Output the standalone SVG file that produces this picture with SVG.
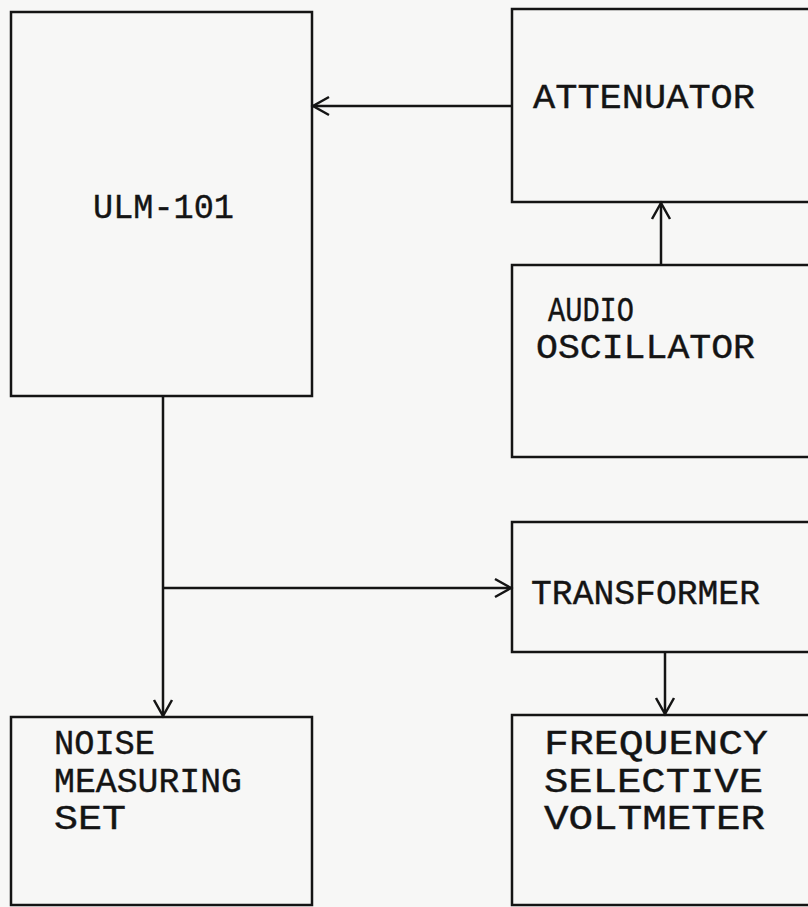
<svg xmlns="http://www.w3.org/2000/svg" width="808" height="907" viewBox="0 0 808 907">
<style>
.box{fill:none;stroke:#141414;stroke-width:2.5}
.con{fill:none;stroke:#141414;stroke-width:2.5}
.lbl{font-family:"Liberation Mono","DejaVu Sans Mono",monospace;font-size:35px;fill:#141414;stroke:#141414;stroke-width:0.4}
</style>
<defs>
<marker id="arr" viewBox="-20 -12 24 24" markerWidth="24" markerHeight="24" refX="0" refY="0" orient="auto" markerUnits="userSpaceOnUse" overflow="visible">
<path d="M-16,-9 L0,0 L-16,9" fill="none" stroke="#141414" stroke-width="2.5"/>
</marker>
</defs>
<rect width="808" height="907" fill="#f7f7f6"/>
<g id="connectors">
<line class="con" x1="512" y1="106" x2="313" y2="106" marker-end="url(#arr)"/>
<line class="con" x1="661" y1="265" x2="661" y2="203" marker-end="url(#arr)"/>
<line class="con" x1="163" y1="396" x2="163" y2="716" marker-end="url(#arr)"/>
<line class="con" x1="163" y1="588" x2="511" y2="588" marker-end="url(#arr)"/>
<line class="con" x1="665" y1="652" x2="665" y2="714" marker-end="url(#arr)"/>
</g>
<g id="ulm101">
<rect class="box" x="11" y="12" width="301" height="384"/>
<text class="lbl" x="93" y="218" textLength="141" lengthAdjust="spacingAndGlyphs">ULM-101</text>
</g>
<g id="attenuator">
<rect class="box" x="512" y="9" width="320" height="193"/>
<text class="lbl" x="533" y="108" textLength="222" lengthAdjust="spacingAndGlyphs">ATTENUATOR</text>
</g>
<g id="audio-oscillator">
<rect class="box" x="512" y="265" width="320" height="192"/>
<text class="lbl" x="548" y="321" textLength="86" lengthAdjust="spacingAndGlyphs">AUDIO</text>
<text class="lbl" x="536" y="358" textLength="219" lengthAdjust="spacingAndGlyphs">OSCILLATOR</text>
</g>
<g id="transformer">
<rect class="box" x="512" y="522" width="320" height="130"/>
<text class="lbl" x="531" y="604" textLength="229" lengthAdjust="spacingAndGlyphs">TRANSFORMER</text>
</g>
<g id="noise-measuring-set">
<rect class="box" x="11" y="717" width="301" height="188"/>
<text class="lbl" x="54" y="754" textLength="101" lengthAdjust="spacingAndGlyphs">NOISE</text>
<text class="lbl" x="54" y="792" textLength="188" lengthAdjust="spacingAndGlyphs">MEASURING</text>
<text class="lbl" x="54" y="829" textLength="72" lengthAdjust="spacingAndGlyphs">SET</text>
</g>
<g id="frequency-selective-voltmeter">
<rect class="box" x="512" y="715" width="320" height="190"/>
<text class="lbl" x="544" y="754" textLength="224" lengthAdjust="spacingAndGlyphs">FREQUENCY</text>
<text class="lbl" x="544" y="792" textLength="219" lengthAdjust="spacingAndGlyphs">SELECTIVE</text>
<text class="lbl" x="544" y="829" textLength="221" lengthAdjust="spacingAndGlyphs">VOLTMETER</text>
</g>
</svg>
